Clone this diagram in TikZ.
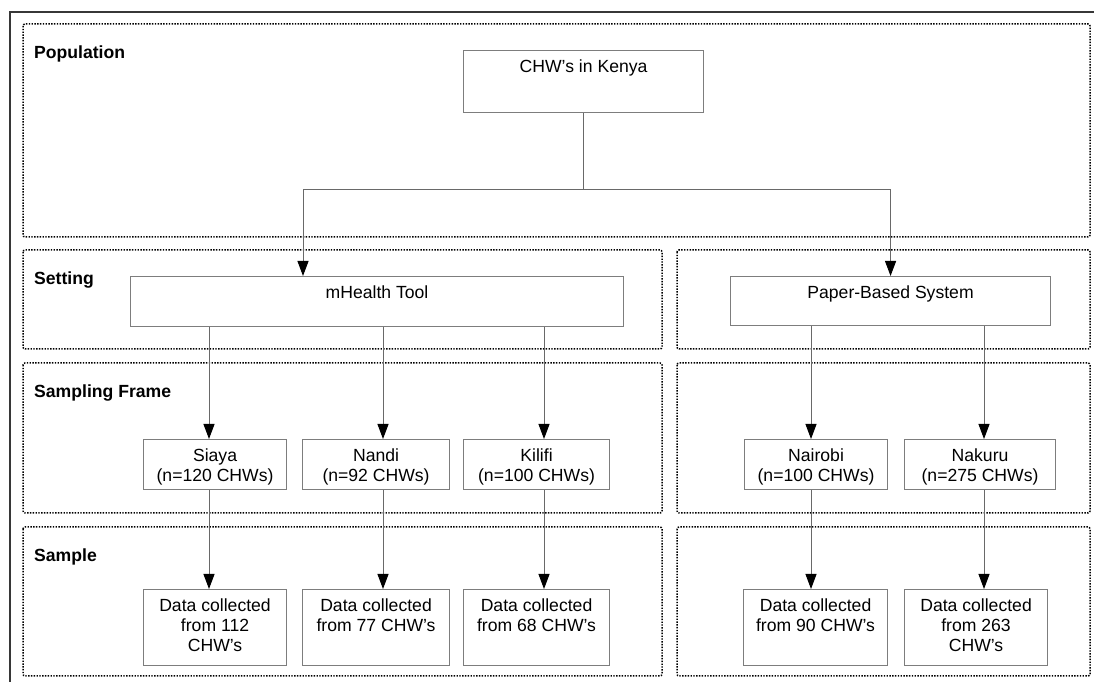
\documentclass[tikz,border=0pt]{standalone}
\usepackage{fontspec}
\setmainfont{Liberation Sans}
\usetikzlibrary{arrows.meta}
\definecolor{boxgray}{RGB}{125,125,125}
\definecolor{linegray}{RGB}{105,105,105}
\definecolor{framegray}{RGB}{55,55,55}
\newcommand\bxt[3]{\parbox[c][#2][t]{#1}{\centering\rule{0pt}{22pt}#3\par}}
\begin{document}
\begin{tikzpicture}[x=1pt,y=1pt,
  font=\fontsize{17.6}{20}\selectfont,
  zone/.style={black, line width=1.5pt, dash pattern=on 1.4pt off 1.4pt, rounded corners=2pt},
  zlabel/.style={anchor=base west, font=\fontsize{17.6}{20}\selectfont\bfseries, inner sep=0pt},
  box/.style={draw=boxgray, line width=1.1pt, inner sep=0pt, anchor=north west},
  conn/.style={draw=linegray, line width=1pt},
  arr/.style={conn, -{Triangle[length=15pt,width=11pt,color=black,fill=black]}}]
\useasboundingbox (0,0) rectangle (1094,682);
\fill[white] (0,0) rectangle (1094,682);
% outer frame
\draw[framegray, line width=1.8pt] (1110,670) -- (10,670) -- (10,-20);
% zones
\draw[zone] (23,658) rectangle (1090,445);
\draw[zone] (23,432) rectangle (662,333);
\draw[zone] (677,432) rectangle (1090,333);
\draw[zone] (23,319) rectangle (662,169);
\draw[zone] (677,319) rectangle (1090,169);
\draw[zone] (23,155) rectangle (662,6);
\draw[zone] (677,155) rectangle (1090,6);
% zone labels
\node[zlabel] (lpop) at (34,623.3) {Population};
\node[zlabel] (lset) at (34,397) {Setting};
\node[zlabel] (lfrm) at (34,284) {Sampling Frame};
\node[zlabel] (lsam) at (34,120) {Sample};
% boxes
\node[box] (kenya) at (463,632) {\bxt{240pt}{62pt}{CHW’s in Kenya}};
\node[box] (mhealth) at (130,406) {\bxt{493pt}{50pt}{mHealth Tool}};
\node[box] (paper) at (730,406) {\bxt{320pt}{49pt}{Paper-Based System}};
\node[box] (siaya) at (143,243) {\bxt{143pt}{50pt}{Siaya\\(n=120 CHWs)}};
\node[box] (nandi) at (302,243) {\bxt{147pt}{50pt}{Nandi\\(n=92 CHWs)}};
\node[box] (kilifi) at (463,243) {\bxt{146pt}{50pt}{Kilifi\\(n=100 CHWs)}};
\node[box] (nairobi) at (744,243) {\bxt{143pt}{50pt}{Nairobi\\(n=100 CHWs)}};
\node[box] (nakuru) at (904,243) {\bxt{151pt}{50pt}{Nakuru\\(n=275 CHWs)}};
\node[box] (d1) at (143,93) {\bxt{143pt}{76pt}{Data collected\\from 112\\CHW’s}};
\node[box] (d2) at (302,93) {\bxt{147pt}{76pt}{Data collected\\from 77 CHW’s}};
\node[box] (d3) at (463,93) {\bxt{146pt}{76pt}{Data collected\\from 68 CHW’s}};
\node[box] (d4) at (743,93) {\bxt{144pt}{76pt}{Data collected\\from 90 CHW’s}};
\node[box] (d5) at (904,93) {\bxt{143pt}{76pt}{Data collected\\from 263\\CHW’s}};
% connector columns
\coordinate (colM) at (303,0);
\coordinate (colA) at (209,0);
\coordinate (colB) at (383,0);
\coordinate (colC) at (544,0);
\coordinate (colD) at (811,0);
\coordinate (colE) at (984,0);
\path (kenya.south) ++(0,-76) coordinate (fork);
% connectors
\draw[conn] (kenya.south) -- (fork);
\draw[arr] (fork) -| (mhealth.north -| colM);
\draw[arr] (fork) -| (paper.north);
\draw[arr] (mhealth.south -| colA) -- (siaya.north -| colA);
\draw[arr] (mhealth.south -| colB) -- (nandi.north -| colB);
\draw[arr] (mhealth.south -| colC) -- (kilifi.north -| colC);
\draw[arr] (paper.south -| colD) -- (nairobi.north -| colD);
\draw[arr] (paper.south -| colE) -- (nakuru.north -| colE);
\draw[arr] (siaya.south -| colA) -- (d1.north -| colA);
\draw[arr] (nandi.south -| colB) -- (d2.north -| colB);
\draw[arr] (kilifi.south -| colC) -- (d3.north -| colC);
\draw[arr] (nairobi.south -| colD) -- (d4.north -| colD);
\draw[arr] (nakuru.south -| colE) -- (d5.north -| colE);
\end{tikzpicture}
\end{document}
